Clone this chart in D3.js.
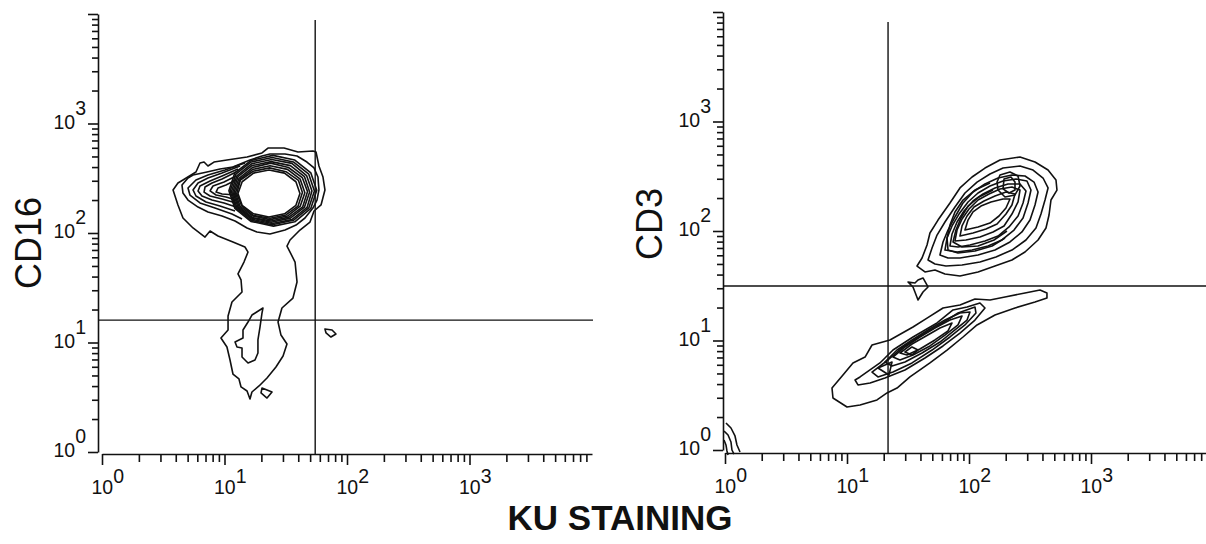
<!DOCTYPE html>
<html>
<head>
<meta charset="utf-8">
<title>KU staining contour plots</title>
<script src="https://cdn.jsdelivr.net/npm/d3@7"></script>
<style>
  body { margin: 0; background: #fff; }
  text { font-family: "Liberation Sans", Arial, sans-serif; fill: #111; }
  .tick-label { font-size: 19.5px; }
  .title { font-size: 36px; }
  .contour { fill: none; stroke: #111; stroke-width: 1.6; stroke-linejoin: round; }
</style>
</head>
<body>
<svg width="1206" height="544"></svg>
<script>
// tick decades shown on both axes of both plots
const tickExponents = [0, 1, 2, 3];
const minorMultipliers = [2, 3, 4, 5, 6, 7, 8, 9];

// quadrant gates, [KU, marker] in fluorescence units
const cd16Gate = [55, 16];
const cd3Gate = [21.7, 31.5];

// contour lines, points are [log10 KU, log10 marker]
const cd16Outer = [[0.58,2.393],[0.62,2.457],[0.661,2.484],[0.767,2.557],[0.8,2.639],[0.833,2.648],[0.865,2.612],[0.914,2.648],[1.02,2.667],[1.184,2.694],[1.306,2.731],[1.355,2.776],[1.486,2.776],[1.6,2.74],[1.722,2.749],[1.747,2.74],[1.771,2.612],[1.804,2.511],[1.82,2.393],[1.788,2.256],[1.731,2.201],[1.698,2.1],[1.616,2.027],[1.535,1.936],[1.51,1.881],[1.576,1.735],[1.592,1.553],[1.559,1.406],[1.469,1.315],[1.437,1.187],[1.461,1.068],[1.51,0.986],[1.478,0.877],[1.42,0.776],[1.347,0.676],[1.282,0.603],[1.224,0.548],[1.208,0.484],[1.184,0.557],[1.135,0.594],[1.118,0.667],[1.069,0.712],[1.045,0.84],[1.02,0.959],[0.971,1.041],[1.029,1.114],[1.029,1.242],[1.061,1.37],[1.143,1.461],[1.135,1.571],[1.11,1.626],[1.159,1.735],[1.192,1.826],[1.167,1.872],[1.069,1.918],[0.947,1.973],[0.882,2.018],[0.841,1.963],[0.743,2.046],[0.661,2.137],[0.62,2.256]];
const cd16Ring = [[0.653,2.438],[0.702,2.502],[0.743,2.53],[0.857,2.557],[0.963,2.584],[1.069,2.603],[1.208,2.667],[1.306,2.703],[1.371,2.721],[1.494,2.721],[1.592,2.703],[1.673,2.648],[1.731,2.594],[1.763,2.511],[1.771,2.393],[1.755,2.301],[1.722,2.228],[1.657,2.137],[1.584,2.073],[1.494,2.027],[1.371,1.991],[1.265,2.009],[1.184,2.046],[1.086,2.11],[0.98,2.155],[0.865,2.192],[0.784,2.237],[0.702,2.301],[0.661,2.365]];
const cd16Core = [
  [[1.616,2.361],[1.583,2.468],[1.49,2.547],[1.363,2.575],[1.237,2.547],[1.144,2.468],[1.11,2.361],[1.144,2.253],[1.237,2.175],[1.363,2.146],[1.49,2.175],[1.583,2.253]],
  [[1.636,2.37],[1.604,2.48],[1.502,2.56],[1.368,2.595],[1.234,2.564],[1.13,2.484],[1.1,2.36],[1.14,2.249],[1.234,2.161],[1.372,2.134],[1.502,2.165],[1.6,2.245]],
  [[1.656,2.368],[1.618,2.491],[1.514,2.581],[1.372,2.614],[1.231,2.581],[1.127,2.491],[1.089,2.368],[1.127,2.245],[1.231,2.155],[1.372,2.122],[1.514,2.155],[1.618,2.245]],
  [[1.678,2.378],[1.635,2.506],[1.522,2.598],[1.377,2.638],[1.228,2.598],[1.118,2.498],[1.078,2.372],[1.118,2.241],[1.228,2.141],[1.38,2.11],[1.526,2.145],[1.638,2.238]],
  [[1.695,2.375],[1.653,2.514],[1.538,2.615],[1.381,2.652],[1.224,2.615],[1.11,2.514],[1.068,2.375],[1.11,2.237],[1.224,2.136],[1.381,2.099],[1.538,2.136],[1.653,2.237]],
  [[1.714,2.384],[1.67,2.525],[1.55,2.636],[1.386,2.671],[1.221,2.632],[1.101,2.521],[1.057,2.379],[1.101,2.233],[1.221,2.126],[1.39,2.087],[1.55,2.122],[1.674,2.233]],
  [[1.734,2.383],[1.688,2.537],[1.562,2.649],[1.39,2.69],[1.218,2.649],[1.093,2.537],[1.046,2.383],[1.093,2.229],[1.218,2.116],[1.39,2.075],[1.562,2.116],[1.688,2.229]],
  [[1.753,2.39],[1.705,2.548],[1.574,2.666],[1.395,2.709],[1.215,2.662],[1.084,2.548],[1.036,2.386],[1.084,2.225],[1.215,2.106],[1.4,2.063],[1.574,2.102],[1.705,2.225]]
];
const cd16Lobe = [
  [[1.167,2.639],[1.004,2.575],[0.865,2.53],[0.767,2.484],[0.702,2.411],[0.718,2.347],[0.8,2.274],[0.922,2.228],[1.061,2.174],[1.143,2.128]],
  [[1.127,2.612],[0.98,2.548],[0.865,2.502],[0.784,2.457],[0.743,2.393],[0.767,2.338],[0.849,2.283],[0.963,2.247],[1.086,2.201]],
  [[1.11,2.584],[0.98,2.521],[0.882,2.475],[0.8,2.429],[0.784,2.384],[0.816,2.338],[0.898,2.301],[0.996,2.274],[1.094,2.237]],
  [[1.094,2.557],[0.98,2.493],[0.898,2.457],[0.841,2.42],[0.833,2.374],[0.882,2.338],[0.98,2.311],[1.094,2.274]],
  [[1.094,2.521],[0.996,2.466],[0.906,2.429],[0.882,2.384],[0.931,2.347],[1.012,2.329],[1.094,2.301]],
  [[1.094,2.484],[1.012,2.438],[0.947,2.411],[0.931,2.374],[0.98,2.356],[1.094,2.347]]
];
const cd16Tail = [[1.314,1.315],[1.224,1.251],[1.192,1.187],[1.151,1.114],[1.151,1.041],[1.086,1.005],[1.102,0.959],[1.143,0.95],[1.143,0.868],[1.192,0.813],[1.249,0.84],[1.273,0.904],[1.273,1.023],[1.29,1.142],[1.306,1.269]];
const cd16Specks = [
  [[1.306,0.584],[1.388,0.548],[1.347,0.493],[1.298,0.539]],
  [[1.82,1.123],[1.878,1.114],[1.91,1.078],[1.869,1.05],[1.829,1.087]]
];

const cd3Bright = [
  [[1.574,1.68],[1.615,1.753],[1.656,1.872],[1.68,1.982],[1.746,2.1],[1.844,2.256],[1.926,2.393],[2.025,2.493],[2.131,2.575],[2.254,2.648],[2.418,2.676],[2.541,2.63],[2.648,2.557],[2.713,2.466],[2.721,2.374],[2.672,2.283],[2.656,2.146],[2.631,2.027],[2.566,1.918],[2.459,1.808],[2.352,1.735],[2.213,1.68],[2.074,1.626],[1.926,1.589],[1.803,1.607],[1.721,1.644],[1.639,1.626]],
  [[1.664,1.735],[1.697,1.845],[1.738,1.963],[1.803,2.082],[1.885,2.219],[1.967,2.347],[2.066,2.447],[2.172,2.521],[2.279,2.575],[2.418,2.594],[2.525,2.557],[2.607,2.484],[2.648,2.393],[2.623,2.283],[2.59,2.155],[2.549,2.027],[2.467,1.918],[2.352,1.826],[2.221,1.763],[2.09,1.717],[1.943,1.689],[1.811,1.68],[1.721,1.699]],
  [[1.762,1.781],[1.787,1.9],[1.828,2.009],[1.885,2.128],[1.951,2.256],[2.033,2.356],[2.131,2.429],[2.238,2.484],[2.352,2.511],[2.459,2.502],[2.533,2.447],[2.566,2.356],[2.541,2.237],[2.5,2.1],[2.434,1.991],[2.336,1.9],[2.213,1.826],[2.074,1.781],[1.926,1.753],[1.828,1.753]],
  [[1.803,1.826],[1.82,1.936],[1.861,2.046],[1.918,2.155],[1.992,2.265],[2.074,2.347],[2.172,2.411],[2.279,2.457],[2.385,2.475],[2.475,2.457],[2.508,2.374],[2.484,2.256],[2.443,2.119],[2.369,2.009],[2.27,1.918],[2.156,1.863],[2.025,1.826],[1.902,1.808]],
  [[1.844,1.863],[1.861,1.973],[1.902,2.082],[1.959,2.183],[2.033,2.274],[2.115,2.338],[2.213,2.393],[2.32,2.429],[2.418,2.429],[2.467,2.365],[2.443,2.256],[2.402,2.137],[2.328,2.037],[2.238,1.954],[2.131,1.909],[2.008,1.872],[1.91,1.854]],
  [[1.885,1.909],[1.902,2.009],[1.943,2.11],[2.0,2.201],[2.074,2.283],[2.164,2.338],[2.254,2.384],[2.352,2.402],[2.418,2.374],[2.402,2.265],[2.352,2.155],[2.287,2.046],[2.197,1.991],[2.09,1.945],[1.975,1.918]],
  [[1.926,1.954],[1.943,2.046],[1.984,2.137],[2.041,2.219],[2.123,2.274],[2.213,2.32],[2.303,2.356],[2.377,2.338],[2.352,2.237],[2.303,2.155],[2.23,2.064],[2.139,2.018],[2.033,1.982]],
  [[1.967,2.009],[1.992,2.1],[2.033,2.174],[2.098,2.228],[2.18,2.265],[2.279,2.292],[2.336,2.292],[2.303,2.21],[2.246,2.137],[2.172,2.073],[2.074,2.037]],
  [[2.254,2.511],[2.336,2.539],[2.402,2.502],[2.418,2.411],[2.377,2.329],[2.295,2.311],[2.238,2.374],[2.23,2.447]],
  [[2.287,2.475],[2.344,2.493],[2.377,2.447],[2.377,2.374],[2.328,2.347],[2.279,2.384]]
];
const cd3BrightArcs = [
  [[2.172,2.438],[2.049,2.374],[1.951,2.283],[1.885,2.174],[1.844,2.055],[1.82,1.936],[1.828,1.826],[1.91,1.799],[2.049,1.817],[2.189,1.863],[2.295,1.936]],
  [[2.197,2.374],[2.082,2.311],[1.992,2.228],[1.934,2.119],[1.893,2.009],[1.869,1.9],[1.943,1.854],[2.074,1.863],[2.205,1.918],[2.311,2.0]]
];
const cd3Dim = [
  [[2.639,1.434],[2.582,1.461],[2.459,1.434],[2.295,1.397],[2.172,1.37],[2.049,1.379],[1.926,1.324],[1.787,1.297],[1.656,1.205],[1.541,1.123],[1.352,1.005],[1.205,0.959],[1.148,0.849],[1.049,0.795],[0.967,0.685],[0.877,0.566],[0.885,0.475],[1.0,0.393],[1.107,0.411],[1.246,0.457],[1.328,0.521],[1.41,0.566],[1.516,0.667],[1.68,0.795],[1.82,0.913],[1.951,1.032],[2.066,1.142],[2.213,1.233],[2.377,1.297],[2.541,1.352],[2.639,1.388]],
  [[1.066,0.639],[1.107,0.667],[1.27,0.795],[1.377,0.913],[1.541,1.032],[1.738,1.16],[1.869,1.279],[1.984,1.306],[2.09,1.342],[2.131,1.297],[2.049,1.187],[1.926,1.068],[1.787,0.95],[1.639,0.84],[1.475,0.731],[1.311,0.658],[1.189,0.612],[1.09,0.594]],
  [[1.205,0.712],[1.336,0.822],[1.459,0.941],[1.615,1.05],[1.795,1.169],[1.91,1.251],[2.049,1.306],[2.057,1.251],[1.967,1.142],[1.844,1.032],[1.697,0.913],[1.533,0.795],[1.377,0.712],[1.254,0.667]],
  [[1.311,0.804],[1.41,0.913],[1.533,1.005],[1.664,1.096],[1.803,1.187],[1.926,1.251],[2.008,1.26],[1.984,1.187],[1.885,1.096],[1.762,0.986],[1.615,0.886],[1.475,0.804],[1.369,0.767]],
  [[1.377,0.849],[1.475,0.941],[1.598,1.032],[1.721,1.114],[1.844,1.187],[1.943,1.224],[1.91,1.142],[1.803,1.05],[1.68,0.95],[1.541,0.868],[1.434,0.822]],
  [[1.434,0.886],[1.533,0.968],[1.648,1.041],[1.762,1.114],[1.861,1.16],[1.828,1.087],[1.721,1.005],[1.598,0.922],[1.492,0.868]],
  [[1.475,0.895],[1.533,0.941],[1.582,0.913],[1.533,0.868]],
  [[1.254,0.749],[1.369,0.804],[1.344,0.685]],
  [[1.5,1.534],[1.557,1.525],[1.582,1.553],[1.623,1.571],[1.664,1.489],[1.623,1.443],[1.582,1.37],[1.557,1.443],[1.541,1.489]]
];
const cd3Corner = [
  [[0.008,0.247],[0.049,0.201],[0.082,0.128],[0.098,0.046],[0.123,-0.018]],
  [[-0.008,0.174],[0.025,0.137],[0.049,0.073],[0.057,0],[0.074,-0.037]],
  [[-0.008,0.091],[0.008,0.046],[0.016,-0.009],[0.025,-0.046]]
];

const panels = [
  { title: "CD16", gate: cd16Gate,
    closed: [cd16Outer, cd16Ring, ...cd16Core, cd16Tail, ...cd16Specks], open: cd16Lobe,
    x0: 102, y0: 452, dx: 122.5, dy: 109.5, yAxisX: 98, xAxisY: 454, gateTop: 20, gateRight: 593,
    titleX: 41, titleY: 243 },
  { title: "CD3", gate: cd3Gate,
    closed: [...cd3Bright, ...cd3Dim], open: [...cd3BrightArcs, ...cd3Corner],
    x0: 725, y0: 450, dx: 122, dy: 109.5, yAxisX: 723, xAxisY: 453, gateTop: 22, gateRight: 1206,
    titleX: 662, titleY: 224 }
];

const svg = d3.select("svg");
const majors = [1, 10, 100, 1000];
const minors = d3.merge(tickExponents.map(e => minorMultipliers.map(m => m * Math.pow(10, e))));

panels.forEach(p => {
  const x = d3.scaleLog().domain([1, 1e4]).range([p.x0, p.x0 + 4 * p.dx]);
  const y = d3.scaleLog().domain([1, 1e4]).range([p.y0, p.y0 - 4 * p.dy]);
  const g = svg.append("g");

  // x axis, ticks hang below
  g.append("g").attr("transform", `translate(0,${p.xAxisY})`)
    .call(d3.axisBottom(x).tickValues(majors).tickSize(11).tickSizeOuter(0).tickFormat(""));
  g.append("g").attr("transform", `translate(0,${p.xAxisY})`)
    .call(d3.axisBottom(x).tickValues(minors).tickSize(8).tickFormat(""))
    .select(".domain").remove();

  // y axis, ticks to the left
  g.append("g").attr("transform", `translate(${p.yAxisX},0)`)
    .call(d3.axisLeft(y).tickValues(majors.concat([1e4])).tickSize(10).tickSizeOuter(0).tickFormat(""));
  g.append("g").attr("transform", `translate(${p.yAxisX},0)`)
    .call(d3.axisLeft(y).tickValues(minors).tickSize(6).tickFormat(""))
    .select(".domain").remove();

  g.selectAll(".domain, .tick line").attr("stroke", "#111").attr("stroke-width", 1.6);

  // 10^n labels
  tickExponents.forEach(e => {
    const tx = g.append("text").attr("class", "tick-label")
      .attr("x", x(Math.pow(10, e)) - 10.5).attr("y", p.xAxisY + 40);
    tx.append("tspan").text("10");
    tx.append("tspan").attr("dy", -11).text(e);

    const ty = g.append("text").attr("class", "tick-label").attr("text-anchor", "end")
      .attr("x", p.yAxisX - 12).attr("y", y(Math.pow(10, e)) + 5);
    ty.append("tspan").text("10");
    ty.append("tspan").attr("dy", -14).text(e);
  });

  // quadrant gates
  g.append("line").attr("x1", x(p.gate[0])).attr("x2", x(p.gate[0]))
    .attr("y1", p.xAxisY).attr("y2", p.gateTop)
    .attr("stroke", "#111").attr("stroke-width", 1.4);
  g.append("line").attr("x1", p.yAxisX).attr("x2", p.gateRight)
    .attr("y1", y(p.gate[1])).attr("y2", y(p.gate[1]))
    .attr("stroke", "#111").attr("stroke-width", 1.4);

  // contours
  const closedLine = d3.line()
    .x(d => x(Math.pow(10, d[0]))).y(d => y(Math.pow(10, d[1])))
    .curve(d3.curveLinearClosed);
  const openLine = d3.line()
    .x(d => x(Math.pow(10, d[0]))).y(d => y(Math.pow(10, d[1])));

  g.append("g").selectAll("path").data(p.closed).join("path")
    .attr("class", "contour").attr("d", closedLine);
  g.append("g").selectAll("path").data(p.open).join("path")
    .attr("class", "contour").attr("d", openLine);

  g.append("text").attr("class", "title").attr("text-anchor", "middle")
    .attr("transform", `translate(${p.titleX},${p.titleY}) rotate(-90)`)
    .text(p.title);
});

svg.append("text").attr("x", 620).attr("y", 530).attr("text-anchor", "middle")
  .style("font-size", "35px").style("font-weight", "bold")
  .text("KU STAINING");
</script>
</body>
</html>
